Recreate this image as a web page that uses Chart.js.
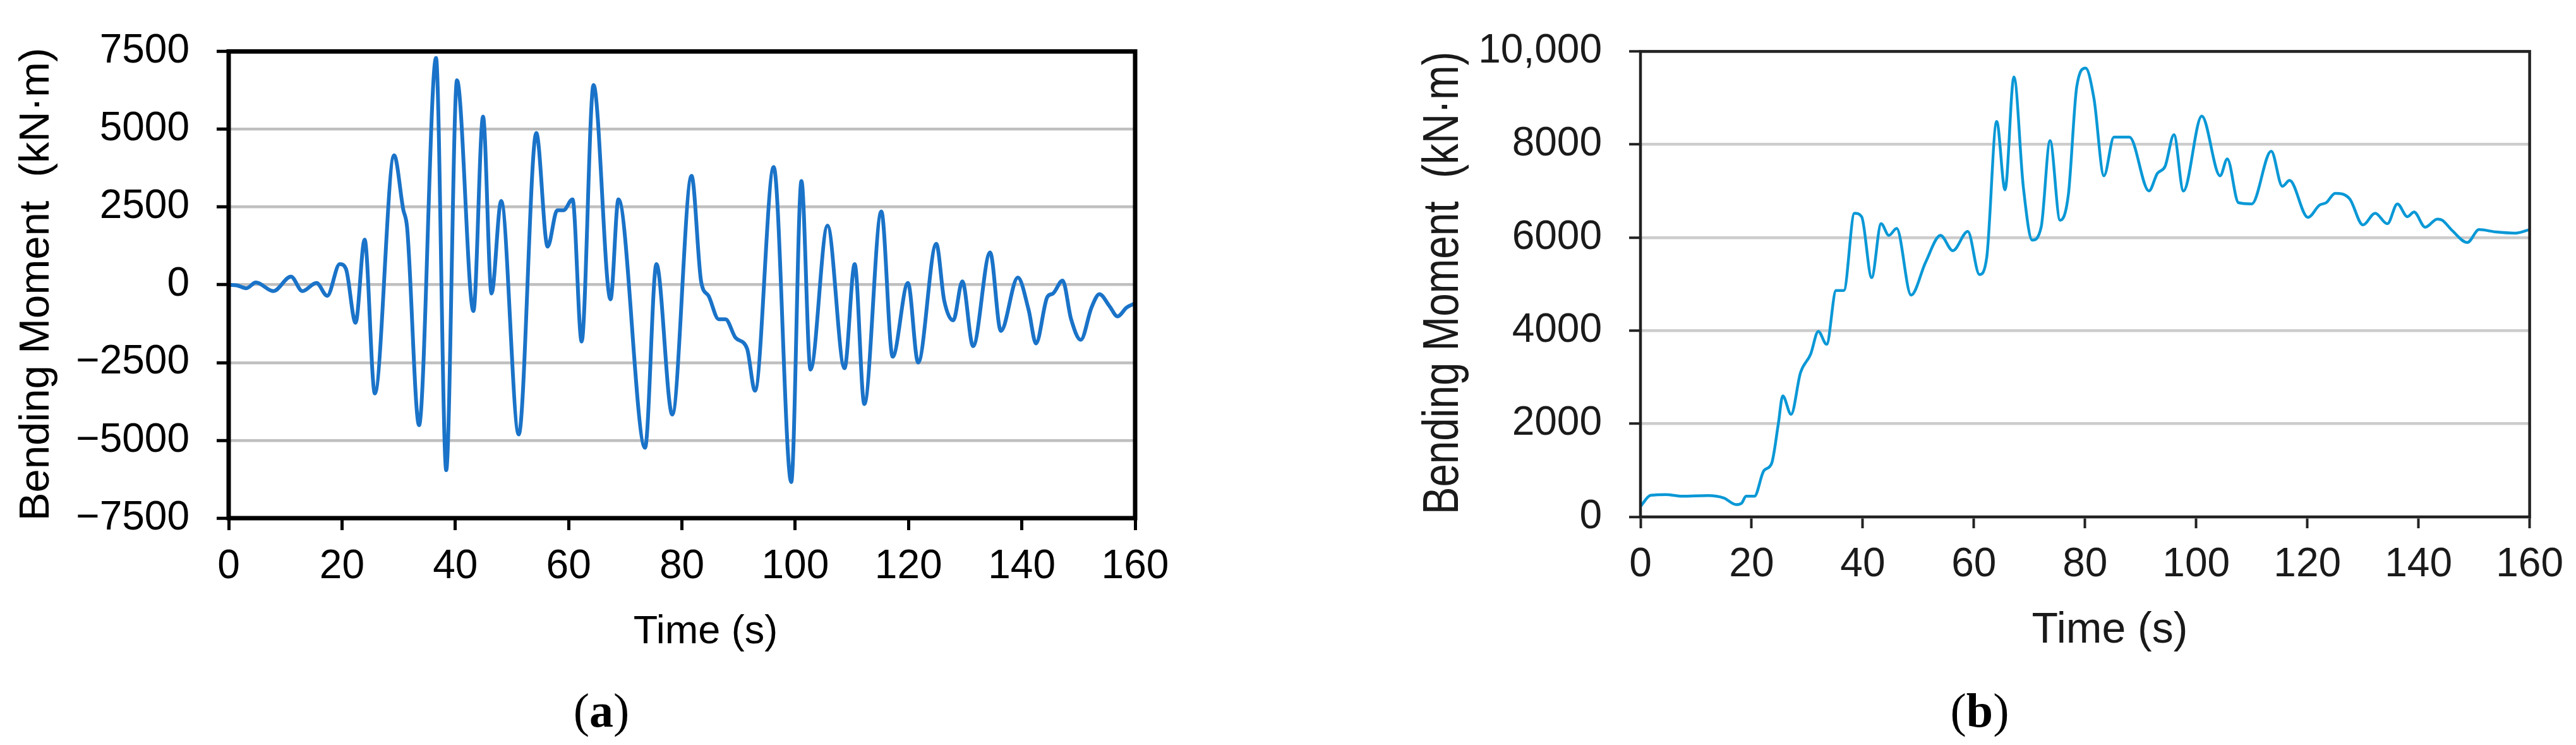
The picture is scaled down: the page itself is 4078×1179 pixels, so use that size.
<!DOCTYPE html>
<html>
<head>
<meta charset="utf-8">
<script src="https://cdn.jsdelivr.net/npm/chart.js@4.4.1/dist/chart.umd.min.js"></script>
<style>
  html, body { margin: 0; padding: 0; background: #fff; overflow: hidden; }
  canvas { position: absolute; top: 0; }
  #chartA { left: 0; }
  #chartB { left: 2040px; }
</style>
</head>
<body>
<canvas id="chartA" width="2040" height="1179"></canvas>
<canvas id="chartB" width="2038" height="1179"></canvas>
<script>
// (a) bending moment time history, peaks and troughs
const timeA = [0, 1.5, 3.1, 4.8, 7.9, 11.0, 13.0, 15.5, 17.4, 19.6, 20.7, 22.4, 24.0, 25.8, 29.2, 30.8, 31.5,
  33.6, 36.6, 38.4, 40.3, 43.2, 44.9, 46.4, 48.1, 51.2, 54.3, 56.3, 58.0, 59.1, 60.7, 62.3, 64.4, 67.4,
  68.8, 73.5, 75.5, 78.3, 81.7, 83.4, 84.7, 86.5, 87.7, 89.5, 91.5, 92.9, 96.2, 99.3, 101.1, 102.7,
  105.7, 108.7, 110.5, 112.2, 115.2, 117.2, 119.9, 121.7, 124.9, 126.3, 127.9, 129.5, 131.4, 134.4,
  136.3, 139.3, 141.2, 142.5, 144.5, 145.5, 147.2, 148.7, 150.4, 152.3, 153.7, 155.5, 156.9, 158.5, 160];
const momentA = [0, -20, -113, 75, -203, 264, -203, 60, -354, 663, 512, -1220, 1453, -3492, 4164, 2432, 1830,
  -4511, 7289, -5959, 6574, -843, 5407, -279, 2696, -4810, 4879, 1227, 2395, 2395, 2748, -1822, 6423, -467,
  2748, -5236, 663, -4171, 3501, 98, -354, -1107, -1107, -1709, -2048, -3405, 3788, -6341, 3336, -2726,
  1905, -2683, 663, -3832, 2357, -2312, 60, -2500, 1318, -505, -1145, 113, -1973, 1039,
  -1483, 233, -806, -1883, -392, -279, 136, -1107, -1770, -730, -301, -693, -1017, -730, -595];

// (b) bending moment time history
const timeB = [0, 1.85, 4.6, 7.5, 12.1, 15.0, 17.2, 18.2, 19.0, 20.5, 22.2, 23.6, 24.8, 25.6, 27.1, 28.8,
  30.6, 32.0, 33.5, 35.2, 36.6, 38.5, 39.8, 41.6, 43.3, 44.7, 46.1, 48.7, 51.3, 54.0, 56.2, 58.9, 61.0,
  62.3, 64.1, 65.6, 67.2, 68.9, 70.5, 72.1, 73.7, 75.5, 77.0, 78.5, 80.1, 81.6, 83.4, 85.2, 88.0, 91.5,
  93.0, 94.4, 96.0, 97.7, 101.0, 104.3, 105.6, 107.6, 110.0, 113.5, 115.5, 116.8, 120.1, 122.2, 123.4,
  125.0, 127.6, 130.0, 132.2, 134.4, 136.2, 138.0, 139.2, 141.2, 143.4, 144.3, 146.1, 148.8, 150.9,
  153.9, 157.4, 160];
const momentB = [227, 464, 480, 443, 459, 407, 264, 296, 443, 443, 992, 1150, 1993, 2599, 2204, 3100,
  3490, 3985, 3708, 4865, 4865, 6524, 6449, 5142, 6298, 6047, 6198, 4765, 5469, 6047, 5720, 6132, 5207,
  5569, 8495, 7027, 9452, 7077, 5946, 6223, 8084, 6373, 6926, 9240, 9642, 8988, 7329, 8159, 8159, 7002,
  7379, 7531, 8209, 7002, 8612, 7329, 7691, 6751, 6725, 7857, 7102, 7228, 6434, 6700, 6751,
  6952, 6837, 6273, 6524, 6298, 6725, 6449, 6549, 6223, 6399, 6373, 6147, 5896, 6172,
  6122, 6097, 6172];

const xTicks = [0, 20, 40, 60, 80, 100, 120, 140, 160];
const xTickLabels = ['0', '20', '40', '60', '80', '100', '120', '140', '160'];
const yTicksA = [-7500, -5000, -2500, 0, 2500, 5000, 7500];
const yTickLabelsA = ['\u22127500', '\u22125000', '\u22122500', '0', '2500', '5000', '7500'];
const yTicksB = [0, 2000, 4000, 6000, 8000, 10000];
const yTickLabelsB = ['0', '2000', '4000', '6000', '8000', '10,000'];

const xTitle = 'Time (s)';
const yTitle = 'Bending Moment  (kN\u00b7m)';

// frame round the plot area plus axis titles and panel tag
const panelText = {
  id: 'panelText',
  afterDraw(chart, args, o) {
    const ctx = chart.ctx;
    const a = chart.chartArea;
    ctx.save();
    ctx.strokeStyle = o.frameColor;
    ctx.lineWidth = o.frameWidth;
    ctx.strokeRect(a.left, a.top, a.right - a.left, a.bottom - a.top);

    ctx.fillStyle = o.color;
    ctx.textAlign = 'center';
    ctx.textBaseline = 'alphabetic';
    ctx.font = o.xFont;
    ctx.fillText(xTitle, o.xPos[0], o.xPos[1]);

    ctx.save();
    ctx.translate(o.yPos[0], o.yPos[1]);
    ctx.rotate(-Math.PI / 2);
    ctx.scale(o.yCondense, 1);   // (b) uses a condensed face
    ctx.font = o.yFont;
    ctx.fillText(yTitle, 0, 0);
    ctx.restore();

    // "(a)" with a bold letter
    const parts = [['(', o.tagFont], [o.tag, 'bold ' + o.tagFont], [')', o.tagFont]];
    let w = 0;
    parts.forEach(p => { ctx.font = p[1]; w += ctx.measureText(p[0]).width; });
    let x = o.tagPos[0] - w / 2;
    ctx.textAlign = 'left';
    ctx.fillStyle = '#000';
    parts.forEach(p => {
      ctx.font = p[1];
      ctx.fillText(p[0], x, o.tagPos[1]);
      x += ctx.measureText(p[0]).width;
    });
    ctx.restore();
  }
};

function makeChart(id, t, m, cfg) {
  const ctx = document.getElementById(id).getContext('2d');
  return new Chart(ctx, {
    type: 'line',
    data: {
      datasets: [{
        data: t.map((x, i) => ({ x: x, y: m[i] })),
        borderColor: cfg.lineColor,
        borderWidth: cfg.lineWidth,
        pointRadius: 0,
        cubicInterpolationMode: 'monotone',
        fill: false
      }]
    },
    options: {
      responsive: false,
      animation: false,
      events: [],
      layout: { padding: cfg.padding },
      plugins: {
        legend: { display: false },
        tooltip: { enabled: false },
        panelText: cfg.text
      },
      scales: {
        x: {
          type: 'linear',
          min: 0,
          max: 160,
          afterFit: s => { s.height = cfg.xHeight; },
          afterBuildTicks: s => { s.ticks = xTicks.map(v => ({ value: v })); },
          border: { display: false },
          grid: {
            drawOnChartArea: false,
            drawTicks: true,
            tickLength: cfg.tickLength,
            tickColor: cfg.tickColor,
            tickWidth: cfg.tickWidth
          },
          ticks: {
            autoSkip: false,
            maxRotation: 0,
            padding: cfg.xPad,
            color: cfg.textColor,
            font: cfg.xTickFont,
            callback: v => xTickLabels[xTicks.indexOf(v)]
          }
        },
        y: {
          min: cfg.yTicks[0],
          max: cfg.yTicks[cfg.yTicks.length - 1],
          afterFit: s => { s.width = cfg.yWidth; },
          afterBuildTicks: s => { s.ticks = cfg.yTicks.map(v => ({ value: v })); },
          border: { display: false },
          grid: {
            color: cfg.gridColor,
            lineWidth: cfg.gridWidth,
            drawTicks: true,
            tickLength: cfg.tickLength,
            tickColor: cfg.tickColor,
            tickWidth: cfg.tickWidth
          },
          ticks: {
            autoSkip: false,
            padding: cfg.yPad,
            color: cfg.textColor,
            font: cfg.yTickFont,
            callback: v => cfg.yLabels[cfg.yTicks.indexOf(v)]
          }
        }
      }
    },
    plugins: [panelText]
  });
}

makeChart('chartA', timeA, momentA, {
  lineColor: '#1a73c8',
  lineWidth: 6,
  padding: { left: 0, top: 57, right: 243, bottom: 0 },
  xHeight: 359,
  yWidth: 362,
  yTicks: yTicksA,
  yLabels: yTickLabelsA,
  gridColor: '#bfbfbf',
  gridWidth: 4.5,
  tickLength: 19,
  tickColor: '#000',
  tickWidth: 5,
  xPad: 20,
  yPad: 43,
  textColor: '#000',
  xTickFont: { family: "'Liberation Sans', Arial, sans-serif", size: 64 },
  yTickFont: { family: "'Liberation Sans', Arial, sans-serif", size: 64 },
  text: {
    frameColor: '#000', frameWidth: 7, color: '#000',
    xFont: "63px 'Liberation Sans', Arial, sans-serif", xPos: [1117, 1018],
    yFont: "67px 'Liberation Sans', Arial, sans-serif", yPos: [77, 450], yCondense: 1,
    tag: 'a', tagFont: "76px 'Liberation Serif', 'Times New Roman', serif", tagPos: [952, 1150]
  }
});

makeChart('chartB', timeB, momentB, {
  lineColor: '#0a98d6',
  lineWidth: 4.5,
  padding: { left: 0, top: 57, right: 66, bottom: 0 },
  xHeight: 361,
  yWidth: 557,
  yTicks: yTicksB,
  yLabels: yTickLabelsB,
  gridColor: '#cccccc',
  gridWidth: 4.5,
  tickLength: 18,
  tickColor: '#222',
  tickWidth: 4,
  xPad: 20,
  yPad: 43,
  textColor: '#1a1a1a',
  xTickFont: { family: "'Liberation Sans', Arial, sans-serif", size: 64 },
  yTickFont: { family: "'Liberation Sans', Arial, sans-serif", size: 64 },
  text: {
    frameColor: '#222', frameWidth: 4.5, color: '#1a1a1a',
    xFont: "68px 'Liberation Sans', Arial, sans-serif", xPos: [1300, 1017],
    yFont: "80px 'Liberation Sans', Arial, sans-serif", yPos: [268, 448], yCondense: 0.82,
    tag: 'b', tagFont: "76px 'Liberation Serif', 'Times New Roman', serif", tagPos: [1094, 1150]
  }
});
</script>
</body>
</html>
